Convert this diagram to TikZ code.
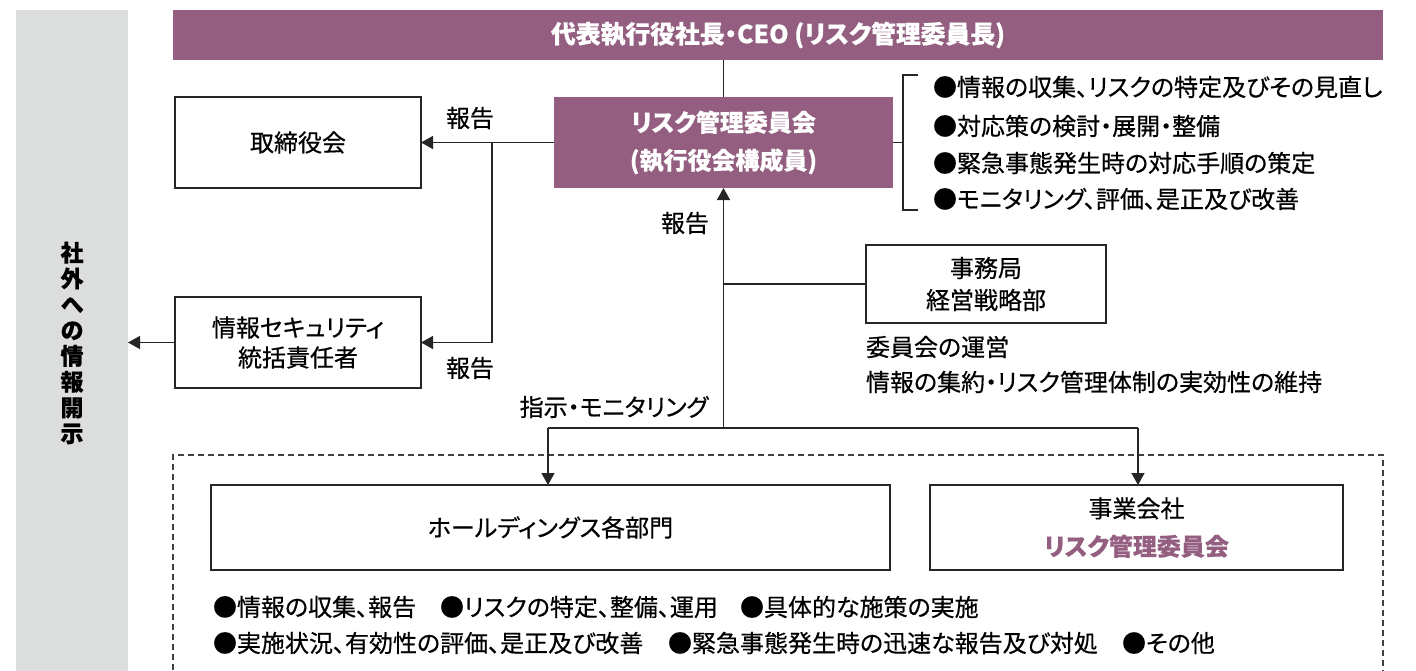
\documentclass[tikz,border=0pt]{standalone}
\usepackage{fontspec}
\setmainfont{Noto Sans CJK JP}[RawFeature=+palt,FakeBold=0.5]
\usetikzlibrary{arrows.meta}
\definecolor{plum}{HTML}{935E80}
\definecolor{sidegray}{HTML}{DCDDDD}
\begin{document}
\begin{tikzpicture}[x=1pt,y=-1pt,
  every node/.style={inner sep=0pt,outer sep=0pt},
  line/.style={line width=1.4pt,draw=black!85},
  arr/.style={line width=1.4pt,draw=black!85,-{Triangle[length=12pt,width=13pt]}},
  wbox/.style={draw=black!85,line width=1.4pt,fill=white,align=center,font=\fontsize{24}{30}\selectfont},
  pbox/.style={fill=plum,text=white,align=center,font=\bfseries\fontsize{24}{38}\selectfont},
  txt/.style={font=\fontsize{24}{26}\selectfont,anchor=west},
  lbl/.style={font=\fontsize{24}{26}\selectfont}]
\useasboundingbox (0,0) rectangle (1416,670);
\fill[white] (0,0) rectangle (1416,670);

% side bar
\node[fill=sidegray,minimum width=112pt,minimum height=670pt,anchor=north west] (side) at (16,10) {};
\node[font=\bfseries\fontsize{23}{25.8}\selectfont,align=center] (sidetxt) at (72,343) {社\\外\\へ\\の\\情\\報\\開\\示};

% CEO bar
\node[pbox,font=\bfseries\fontsize{24.8}{24}\selectfont,minimum width=1210pt,minimum height=50pt,anchor=north west] (ceo) at (173,10) {代表執行役社長・CEO (リスク管理委員長)};

% risk committee
\node[pbox,minimum width=339pt,minimum height=91pt] (risk) at (723.5,142.5) {リスク管理委員会\\(執行役会構成員)};

% board
\node[wbox,minimum width=246pt,minimum height=91pt] (board) at (298,142.5) {取締役会};

% info security
\node[wbox,minimum width=246pt,minimum height=91pt] (infosec) at (298,342.5) {情報セキュリティ\\統括責任者};

% secretariat
\node[wbox,font=\fontsize{24}{32}\selectfont,minimum width=240pt,minimum height=78pt] (sec) at (986,284) {事務局\\経営戦略部};
\node[txt] (sec1) at (866,347) {委員会の運営};
\node[txt] (sec2) at (866,382) {情報の集約・リスク管理体制の実効性の維持};

% dashed group
\draw[line width=1.1pt,draw=black!75,dash pattern=on 6pt off 4pt] (173,680) -- (173,455) -- (1383,455) -- (1383,680);

% holdings and companies
\node[wbox,minimum width=679pt,minimum height=85pt] (hold) at (550.5,527.5) {ホールディングス各部門};
\node[wbox,font=\fontsize{24}{38}\selectfont,minimum width=413pt,minimum height=85pt] (biz) at (1136.5,527.5) {事業会社\\\textcolor{plum}{\bfseries リスク管理委員会}};

% bottom bullets
\node[txt] (b1) at (213,607) {●情報の収集、報告};
\node[txt] (b2) at (440,607) {●リスクの特定、整備、運用};
\node[txt] (b3) at (740,607) {●具体的な施策の実施};
\node[txt] (b4) at (213,643) {●実施状況、有効性の評価、是正及び改善};
\node[txt] (b5) at (668,643) {●緊急事態発生時の迅速な報告及び対処};
\node[txt] (b6) at (1122,643) {●その他};

% bracket list
\node[txt] (r1) at (933,87) {●情報の収集、リスクの特定及びその見直し};
\node[txt] (r2) at (933,126) {●対応策の検討・展開・整備};
\node[txt] (r3) at (933,163) {●緊急事態発生時の対応手順の策定};
\node[txt] (r4) at (933,199) {●モニタリング、評価、是正及び改善};
\coordinate (bt) at (918,75);
\coordinate (bb) at (918,210);
\draw[line] (risk.east) -- (903,142.5);
\draw[line] (bt) -- (903,75) -- (903,210) -- (bb);

% connectors
\draw[line] (risk.north |- ceo.south) -- (risk.north);
\draw[arr] (risk.west) -- (board.east);
\node[lbl] (l1) at (470,118) {報告};
\coordinate (j1) at (492,142.5);
\draw[arr] (j1) |- (infosec.east);
\node[lbl] (l2) at (470,368) {報告};
\draw[arr] (infosec.west) -- (side.east |- infosec.west);

\coordinate (hub) at (723.5,428);
\draw[arr] (hub) -- (risk.south);
\node[lbl] (l3) at (685,223) {報告};
\draw[line] (risk.south |- sec.west) -- (sec.west);
\node[lbl] (l4) at (614,407) {指示・モニタリング};

\coordinate (hl) at (548,428);
\coordinate (hr) at (1138,428);
\draw[line] (hl) -- (hr);
\draw[arr] (hl) -- (hl |- hold.north);
\draw[arr] (hr) -- (hr |- biz.north);
\end{tikzpicture}
\end{document}
